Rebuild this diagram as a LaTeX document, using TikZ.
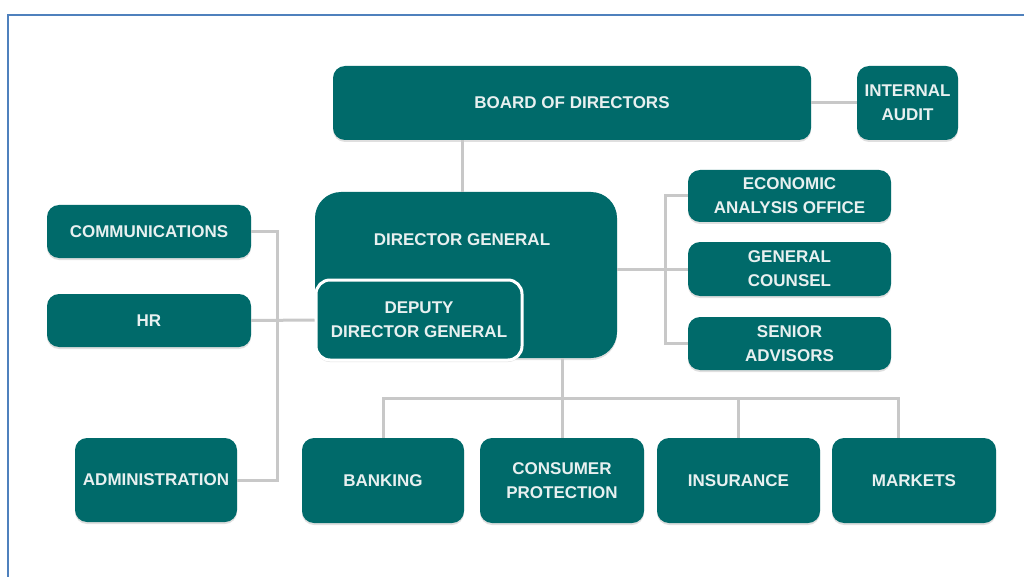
\documentclass[tikz,border=0pt]{standalone}
\usepackage{fontspec}
\setmainfont{Liberation Sans}
\usepackage{tikz}
\usetikzlibrary{calc}
\usetikzlibrary{positioning}
\usetikzlibrary{shadows}

\definecolor{unitfill}{RGB}{0,106,106}
\definecolor{unittext}{RGB}{232,240,240}
\definecolor{linkgray}{RGB}{200,200,200}
\definecolor{frameblue}{RGB}{79,129,189}

\tikzset{
	caption/.style={text=unittext, font=\bfseries\fontsize{17}{24}\selectfont, align=center, inner sep=0pt},
	unit/.style={caption, fill=unitfill, rounded corners=12pt,
		drop shadow={shadow xshift=0pt, shadow yshift=-2pt, opacity=0.25}},
	link/.style={draw=linkgray, line width=3pt},
}

\begin{document}
\begin{tikzpicture}[x=1pt, y=-1pt]
			\useasboundingbox (0, 0) rectangle (1024, 577);
			\draw[frameblue, line width=2pt] (8, 577) -- (8, 15) -- (1024, 15);

			% top
			\node[unit, minimum width=478pt, minimum height=74pt] (board) at (572, 103) {BOARD OF DIRECTORS};
			\node[unit, minimum width=101pt, minimum height=74pt] (audit) at (907.5, 103) {INTERNAL\\AUDIT};

			% director general block
			\node[unit, rounded corners=26pt, minimum width=302pt, minimum height=166pt] (dg) at (466, 275) {};
			\node[caption] (dglabel) at (462, 240) {DIRECTOR GENERAL};
			\node[unit, rounded corners=14pt, draw=white, line width=3pt, minimum width=206pt, minimum height=80pt] (ddg) at (419, 320) {DEPUTY\\DIRECTOR GENERAL};

			% left
			\node[unit, minimum width=204pt, minimum height=53pt] (comm) at (149, 231.5) {COMMUNICATIONS};
			\node[unit, minimum width=204pt, minimum height=53pt] (hr) at (149, 320.5) {HR};
			\node[unit, minimum width=162pt, minimum height=84pt] (admin) at (156, 480) {ADMINISTRATION};

			% right
			\node[unit, minimum width=203pt, minimum height=52pt] (econ) at (789.5, 196) {ECONOMIC\\ANALYSIS OFFICE};
			\node[unit, minimum width=203pt, minimum height=54pt] (counsel) at (789.5, 269) {GENERAL\\COUNSEL};
			\node[unit, minimum width=203pt, minimum height=53pt] (advisors) at (789.5, 343.5) {SENIOR\\ADVISORS};

			% bottom
			\node[unit, minimum width=162pt, minimum height=85pt] (banking) at (383, 480.5) {BANKING};
			\node[unit, minimum width=164pt, minimum height=85pt] (consumer) at (562, 480.5) {CONSUMER\\PROTECTION};
			\node[unit, minimum width=163pt, minimum height=85pt] (insurance) at (738.5, 480.5) {INSURANCE};
			\node[unit, minimum width=164pt, minimum height=85pt] (markets) at (914, 480.5) {MARKETS};

			\coordinate (lbus) at (277, 320);
			\coordinate (rbus) at (665, 270);
			\coordinate (bbus) at (563, 398);

			\draw[link] (board.south -| dglabel) -- (dglabel |- dg.north);
			\draw[link] (board.east) -- (audit.west);
			\draw[link] (comm.east) -| (admin.east -| lbus) -- (admin.east);
			\draw[link] (hr.east) -- (ddg.west);
			\draw[link] (dg.east |- counsel.west) -- (counsel.west);
			\draw[link] (econ.west) -| (advisors.west -| rbus) -- (advisors.west);
			\draw[link] (dg.south -| consumer.north) -- (consumer.north);
			\draw[link] (banking.north) |- (bbus) -| ([xshift=-16pt]markets.north);
			\draw[link] (insurance.north) -- (insurance.north |- bbus);
\end{tikzpicture}
\end{document}
